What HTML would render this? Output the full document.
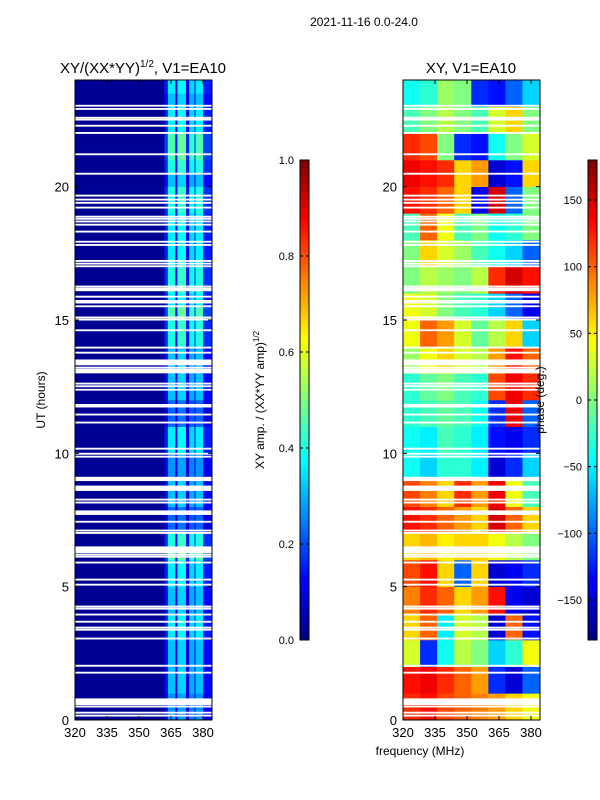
<!DOCTYPE html>
<html><head><meta charset="utf-8">
<style>
html,body{margin:0;padding:0;background:#fff;}
svg{display:block;font-family:"Liberation Sans","DejaVu Sans",sans-serif;}
</style></head>
<body>
<svg id="fig" width="600" height="800" viewBox="0 0 600 800" xmlns="http://www.w3.org/2000/svg">
<rect width="600" height="800" fill="#fff"/>
<text x="364" y="26" font-size="12" text-anchor="middle">2021-11-16 0.0-24.0</text>
<text x="143" y="73" font-size="15" text-anchor="middle">XY/(XX*YY)<tspan font-size="10" dy="-6">1/2</tspan><tspan dy="6">, V1=EA10</tspan></text>
<text x="471" y="73" font-size="15" text-anchor="middle">XY, V1=EA10</text>
<text x="420" y="755" font-size="12" text-anchor="middle">frequency (MHz)</text>
<text x="45" y="400" font-size="12" text-anchor="middle" transform="rotate(-90 45 400)">UT (hours)</text>
<text x="264" y="400" font-size="12" text-anchor="middle" transform="rotate(-90 264 400)">XY amp. / (XX*YY amp)<tspan font-size="8" dy="-5">1/2</tspan></text>
<g id="left"></g>
<g id="right"></g>
<g id="cbars"></g>
<g id="axes"></g>
<text x="544" y="400" font-size="12" text-anchor="middle" transform="rotate(-90 544 400)">phase (deg.)</text>
</svg>
<script>
// ---- data ----
var ampFreqEdges = [320,362,363.5,367,368,372,373.5,376,376.5,380,384];
var ampColBase   = [0.02,0.15,0.36,0.12,0.38,0.13,0.34,0.13,0.36,0.15];
var ampRowGain = [0.6,0.6,0.7,0.7,0.7,0.7,0.8,0.8,0.7,0.7,0.8,0.8,1.0,0.9,0.5,0.5,0.7,0.7,0.6,0.6,0.8,0.8,0.5,0.5,0.7,0.7,0.7,0.7,0.9,0.9,1.0,0.8,0.9,0.9,0.8,0.8,0.8,0.8,0.9,0.9,0.7,0.9,1.0,1.0,0.8,0.8,0.7,0.8];
var phaseFreqEdges = [320,328,336,344,352,360,368,376,384];
var phaseRows = [
 [120,130,110,100,90,80,60,40],
 [130,140,120,100,80,-120,-150,-100],
 [30,-120,-40,20,0,-60,-30,40],
 [60,100,-50,30,20,-150,100,-130],
 [90,120,100,60,80,130,-140,-150],
 [110,130,60,-100,60,-150,-140,-120],
 [60,70,50,60,60,40,20,0],
 [130,120,100,80,60,150,100,60],
 [110,90,60,120,80,140,40,-20],
 [-40,-60,-30,-30,-50,-150,-120,-60],
 [-40,-50,-20,-30,-50,-130,-140,-120],
 [-30,-20,-10,-20,-40,-120,140,-100],
 [-30,-10,0,-20,-30,110,140,120],
 [10,40,60,30,20,80,130,100],
 [40,100,80,30,-10,20,60,-60],
 [40,30,0,-20,-30,-60,-100,-140],
 [0,20,10,0,20,120,150,130],
 [0,60,30,10,-20,-40,-60,-100],
 [-20,100,40,-20,0,-40,-30,0],
 [130,120,100,60,-140,150,-100,0],
 [140,130,120,60,80,-150,-130,60],
 [120,110,0,-120,-130,-40,0,30],
 [-20,0,20,0,-20,30,60,0],
 [-40,-30,10,0,-120,-130,-100,-60]
];
var flagStarts = [23.0,22.88,22.55,22.48,22.25,21.98,21.18,20.45,19.63,19.48,19.36,19.18,18.84,18.76,18.66,18.54,18.28,17.9,17.78,17.18,17.08,16.98,16.22,16.14,16.08,15.84,15.68,15.62,15.48,15.06,14.98,14.58,13.93,13.74,13.3,13.18,13.0,12.58,12.48,12.35,11.78,11.72,11.42,11.12,10.14,9.95,9.84,8.96,8.59,8.23,8.12,7.69,7.4,7.07,6.98,6.26,6.17,6.09,5.87,5.23,5.04,4.22,4.14,3.92,3.65,3.43,3.35,3.02,2.0,1.74,0.56,0.47,0.24,0.13];
var flagEnds   = [23.07,22.95,22.62,22.55,22.32,22.05,21.25,20.52,19.7,19.55,19.43,19.25,18.91,18.83,18.73,18.61,18.35,17.97,17.85,17.25,17.15,17.05,16.29,16.21,16.15,15.91,15.75,15.69,15.55,15.13,15.05,14.65,14.0,13.81,13.52,13.25,13.17,12.65,12.55,12.42,11.85,11.79,11.49,11.19,10.21,10.02,9.91,9.12,8.79,8.3,8.19,7.86,7.47,7.14,7.05,6.51,6.24,6.16,5.94,5.3,5.11,4.29,4.21,3.99,3.72,3.5,3.42,3.09,2.07,1.81,0.81,0.54,0.31,0.2];
var yTicks = [0,5,10,15,20];
var xTicks = [320,335,350,365,380];
var ampTicks = [0.0,0.2,0.4,0.6,0.8,1.0];
var phaseTicks = [-150,-100,-50,0,50,100,150];

// ---- helpers ----
var NS='http://www.w3.org/2000/svg';
function jet(v){v=Math.max(0,Math.min(1,v));
 function c(x){return Math.round(255*Math.max(0,Math.min(1,x)));}
 var r=c(1.5-Math.abs(4*v-3)),g=c(1.5-Math.abs(4*v-2)),b=c(1.5-Math.abs(4*v-1));
 return 'rgb('+r+','+g+','+b+')';}
function mk(tag,attrs,parent){var e=document.createElementNS(NS,tag);for(var k in attrs)e.setAttribute(k,attrs[k]);parent.appendChild(e);return e;}
var Y0=720,Y1=80,T0=0,T1=24;
function yS(h){return Y0-(h-T0)/(T1-T0)*(Y0-Y1);}
function xL(f){return 75+(f-320)/(384.2-320)*137;}
function xR(f){return 403+(f-320)/(384.2-320)*137;}

var L=document.getElementById('left'),R=document.getElementById('right'),A=document.getElementById('axes'),C=document.getElementById('cbars');
// amplitude heatmap
var nRows=ampRowGain.length;
for(var i=0;i<nRows;i++){
 var h0=i*24/nRows,h1=(i+1)*24/nRows;
 for(var j=0;j<ampColBase.length;j++){
  var v=j==0?ampColBase[j]:ampColBase[j]*ampRowGain[i]*1.25;
  var r=mk('rect',{x:xL(ampFreqEdges[j]),y:yS(h1),width:xL(ampFreqEdges[j+1])-xL(ampFreqEdges[j])+0.3,height:yS(h0)-yS(h1)+0.3,fill:jet(v)},L);
  
  
 }
}
// phase heatmap
for(var i=0;i<phaseRows.length;i++){
 for(var j=0;j<phaseRows[i].length;j++){
  var r=mk('rect',{x:xR(phaseFreqEdges[j]),y:yS(i+1),width:xR(phaseFreqEdges[j+1])-xR(phaseFreqEdges[j])+0.3,height:yS(i)-yS(i+1)+0.3,fill:jet((phaseRows[i][j]+180)/360)},R);
  
  
 }
}
// flagged rows
for(var k=0;k<flagStarts.length;k++){
 var yt=yS(flagEnds[k]),hh=yS(flagStarts[k])-yt;
 var f1=mk('rect',{x:75,y:yt,width:137,height:hh,fill:'#fff'},L);
 
 
 var f2=mk('rect',{x:403,y:yt,width:137,height:hh,fill:'#fff'},R);
 
 
}
// axes frames and ticks
[[75,xL],[403,xR]].forEach(function(p,pi){
 var fr=mk('rect',{x:p[0],y:80,width:137,height:640,fill:'none',stroke:'#000','stroke-width':1},A);
 
 
 yTicks.forEach(function(t){
  var y=yS(t);
  mk('line',{x1:p[0],x2:p[0]+4,y1:y,y2:y,stroke:'#000'},A);
  mk('line',{x1:p[0]+137,x2:p[0]+133,y1:y,y2:y,stroke:'#000'},A);
  var tx=mk('text',{x:p[0]-6,y:y+5,'font-size':13,'text-anchor':'end'},A);
  tx.textContent=t;
  
  
 });
 xTicks.forEach(function(t){
  var x=p[1](t);
  mk('line',{x1:x,x2:x,y1:720,y2:716,stroke:'#000'},A);
  mk('line',{x1:x,x2:x,y1:80,y2:84,stroke:'#000'},A);
  var tx=mk('text',{x:x,y:737,'font-size':13,'text-anchor':'middle'},A);
  tx.textContent=t;
  
  
 });
});
// colorbars
function cbar(x0,ticks,vmin,vmax,name){
 var g=mk('g',{},C);
 
 
 for(var i=0;i<120;i++){
  mk('rect',{x:x0,y:640-(i+1)*4,width:9,height:4.3,fill:jet((i+0.5)/120)},g);
 }
 mk('rect',{x:x0,y:160,width:9,height:480,fill:'none',stroke:'#000'},g);
 ticks.forEach(function(t){
  var y=640-(t-vmin)/(vmax-vmin)*480;
  mk('line',{x1:x0,x2:x0+3,y1:y,y2:y,stroke:'#000'},g);
  mk('line',{x1:x0+9,x2:x0+6,y1:y,y2:y,stroke:'#000'},g);
  var tx=mk('text',{x:x0-6,y:y+4,'font-size':11,'text-anchor':'end'},g);
  tx.textContent=(vmax<=1?t.toFixed(1):(t<0?'\u2212'+(-t):t));
  
  
 });
}
cbar(300,ampTicks,0,1,'amplitude-colorbar');
cbar(588,phaseTicks,-180,180,'phase-colorbar');
</script>
</body></html>
